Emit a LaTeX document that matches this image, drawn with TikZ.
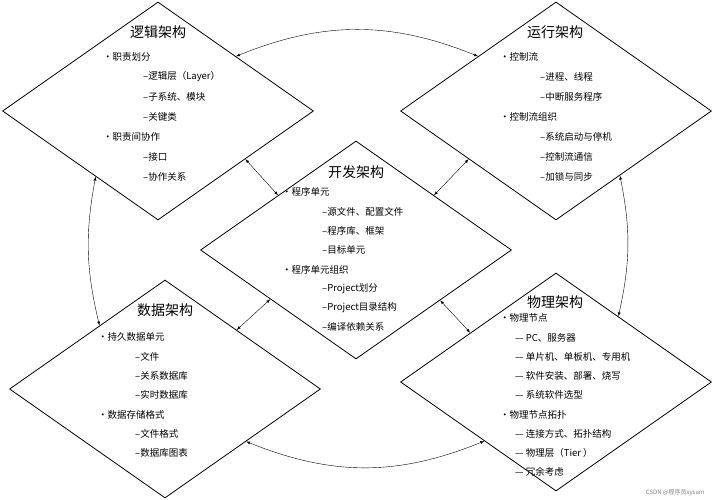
\documentclass[tikz,border=0pt]{standalone}
\usepackage{fontspec}
\setmainfont{Noto Sans CJK SC}
\usetikzlibrary{shapes.geometric,calc}
\tikzset{
  arch/.style={diamond,draw,thick,aspect=1.43,minimum width=311pt,minimum height=218pt,inner sep=0pt},
  ttl/.style={font=\fontsize{14}{14}\selectfont},
  itm/.style={anchor=west,font=\fontsize{9.5}{10}\selectfont,inner sep=0pt},
  link/.style={<->,>=latex}
}
\begin{document}
\begin{tikzpicture}[x=1pt,y=-1pt]
\useasboundingbox (0,0) rectangle (712,500);
\node[arch] (L) at (158,111) {};
\node[arch] (R) at (556,111) {};
\node[arch] (D) at (356,250) {};
\node[arch] (S) at (165,389) {};
\node[arch] (P) at (556,382) {};
% titles
\node[ttl] (Lt) at (158,32) {逻辑架构};
\node[ttl] (Rt) at (555,32) {运行架构};
\node[ttl] (Dt) at (356,172) {开发架构};
\node[ttl] (St) at (165,310) {数据架构};
\node[ttl] (Pt) at (555,302) {物理架构};
% logic
\node[itm] (l1) at (103,57) {•职责划分};
\node[itm] (l2) at (143,77) {–逻辑层（Layer）};
\node[itm] (l3) at (143,97) {–子系统、模块};
\node[itm] (l4) at (143,117) {–关键类};
\node[itm] (l5) at (103,137) {•职责间协作};
\node[itm] (l6) at (143,157) {–接口};
\node[itm] (l7) at (143,177) {–协作关系};
% run
\node[itm] (r1) at (500,57) {•控制流};
\node[itm] (r2) at (540,77) {–进程、线程};
\node[itm] (r3) at (540,97) {–中断服务程序};
\node[itm] (r4) at (500,117) {•控制流组织};
\node[itm] (r5) at (540,137) {–系统启动与停机};
\node[itm] (r6) at (540,157) {–控制流通信};
\node[itm] (r7) at (540,177) {–加锁与同步};
% dev
\node[itm] (d1) at (282,192) {•程序单元};
\node[itm] (d2) at (322,212) {–源文件、配置文件};
\node[itm] (d3) at (322,231) {–程序库、框架};
\node[itm] (d4) at (322,250) {–目标单元};
\node[itm] (d5) at (282,270) {•程序单元组织};
\node[itm] (d6) at (322,289) {–Project划分};
\node[itm] (d7) at (322,308) {–Project目录结构};
\node[itm] (d8) at (322,327) {–编译依赖关系};
% data
\node[itm] (s1) at (98,337) {•持久数据单元};
\node[itm] (s2) at (135,357) {–文件};
\node[itm] (s3) at (135,376) {–关系数据库};
\node[itm] (s4) at (135,395) {–实时数据库};
\node[itm] (s5) at (98,415) {•数据存储格式};
\node[itm] (s6) at (135,434) {–文件格式};
\node[itm] (s7) at (135,453) {–数据库图表};
% physical
\node[itm] (p1) at (500,318) {•物理节点};
\node[itm] (p2) at (515,338) {— PC、服务器};
\node[itm] (p3) at (515,357) {— 单片机、单板机、专用机};
\node[itm] (p4) at (515,376) {— 软件安装、部署、烧写};
\node[itm] (p5) at (515,395) {— 系统软件选型};
\node[itm] (p6) at (500,415) {•物理节点拓扑};
\node[itm] (p7) at (515,434) {— 连接方式、拓扑结构};
\node[itm] (p8) at (515,453) {— 物理层（Tier ）};
\node[itm] (p9) at (515,472) {— 冗余考虑};
\node[anchor=east,font=\fontsize{6}{6}\selectfont,text=gray] (wm) at (708,493) {CSDN @程序员xysam};
% links
\draw[link] ($(L.north)!0.5!(L.east)$) to[bend left=22] ($(R.north)!0.5!(R.west)$);
\draw[link] ($(S.east)!0.48!(S.south)$) to[bend right=22] ($(P.west)!0.54!(P.south)$);
\draw[link] ($(L.west)!0.6!(L.south)$) to[bend right=12] ($(S.north)!0.42!(S.west)$);
\draw[link] ($(R.east)!0.59!(R.south)$) to[bend left=12] ($(P.north)!0.4!(P.east)$);
\draw[link] ($(L.east)!0.44!(L.south)$) -- ($(D.north)!0.5!(D.west)$);
\draw[link] ($(R.west)!0.44!(R.south)$) -- ($(D.north)!0.5!(D.east)$);
\draw[link] ($(S.north)!0.46!(S.east)$) -- ($(D.west)!0.45!(D.south)$);
\draw[link] ($(P.north)!0.55!(P.west)$) -- ($(D.east)!0.46!(D.south)$);
\end{tikzpicture}
\end{document}
